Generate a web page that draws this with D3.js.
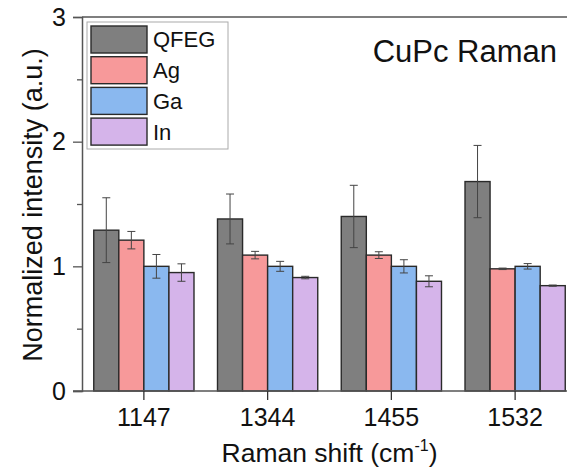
<!DOCTYPE html>
<html>
<head>
<meta charset="utf-8">
<script src="https://cdn.jsdelivr.net/npm/d3@7"></script>
<style>
  body { margin: 0; background: #fff; }
  svg { display: block; font-family: "Liberation Sans", Arial, sans-serif; }
</style>
</head>
<body>
<div id="chart"></div>
<script>
// Raman peak categories and series
const PEAKS = ["1147", "1344", "1455", "1532"];
const SERIES = ["QFEG", "Ag", "Ga", "In"];
const COLORS = ["#7f7f7f", "#f7999a", "#8ab8ef", "#d5b4ea"];

// normalized intensity
const QFEG = [1.29, 1.38, 1.40, 1.68];
const AG   = [1.21, 1.09, 1.09, 0.98];
const GA   = [1.00, 1.00, 1.00, 1.00];
const IN   = [0.95, 0.91, 0.88, 0.845];

// error bar half heights
const QFEG_ERR = [0.26, 0.20, 0.25, 0.29];
const AG_ERR   = [0.07, 0.03, 0.027, 0.006];
const GA_ERR   = [0.095, 0.04, 0.053, 0.022];
const IN_ERR   = [0.07, 0.01, 0.044, 0.005];

const Y_TICKS = [0, 1, 2, 3];

const values = [QFEG, AG, GA, IN];
const errors = [QFEG_ERR, AG_ERR, GA_ERR, IN_ERR];
const rows = [];
PEAKS.forEach((p, i) => SERIES.forEach((s, j) => rows.push({ peak: p, series: s, value: values[j][i], err: errors[j][i], color: COLORS[j] })));

const m = { l: 82, t: 17, r: 0, b: 79 };
const W = 495, H = 374;

const svg = d3.select("#chart").append("svg").attr("width", 567).attr("height", 470);
const g = svg.append("g").attr("transform", `translate(${m.l},${m.t})`);

const x = d3.scaleBand().domain(PEAKS).range([0, W]).paddingInner(0.19).paddingOuter(0.095);
const xs = d3.scaleBand().domain(SERIES).range([0, x.bandwidth()]);
const y = d3.scaleLinear().domain([0, 3]).range([H, 0]);

const axisCol = "#555";

// bars
g.selectAll("rect.bar").data(rows).enter().append("rect").attr("class", "bar")
  .attr("x", d => x(d.peak) + xs(d.series)).attr("y", d => y(d.value))
  .attr("width", xs.bandwidth()).attr("height", d => H - y(d.value))
  .attr("fill", d => d.color).attr("stroke", "#2a2a2a").attr("stroke-width", 1.4);

// error bars
const eb = g.selectAll("g.err").data(rows).enter().append("g").attr("class", "err")
  .attr("transform", d => `translate(${x(d.peak) + xs(d.series) + xs.bandwidth() / 2},0)`)
  .attr("stroke", "#444").attr("stroke-width", 1);
eb.append("line").attr("y1", d => y(d.value + d.err)).attr("y2", d => y(d.value - d.err));
eb.append("line").attr("x1", -4).attr("x2", 4).attr("y1", d => y(d.value + d.err)).attr("y2", d => y(d.value + d.err));
eb.append("line").attr("x1", -4).attr("x2", 4).attr("y1", d => y(d.value - d.err)).attr("y2", d => y(d.value - d.err));

// minor y ticks
g.append("g").call(d3.axisLeft(y).tickValues([0.5, 1.5, 2.5]).tickSize(5).tickFormat(""))
  .call(ax => { ax.select(".domain").remove(); ax.selectAll("line").attr("stroke", axisCol).attr("stroke-width", 1.3); });

// y axis
g.append("g").call(d3.axisLeft(y).tickValues(Y_TICKS).tickSize(9).tickPadding(7).tickFormat(d3.format("d")))
  .call(ax => {
    ax.select(".domain").attr("stroke", axisCol).attr("stroke-width", 1.5);
    ax.selectAll("line").attr("stroke", axisCol).attr("stroke-width", 1.3);
    ax.selectAll("text").style("font-size", "25px").style("fill", "#111");
  });

// x axis
g.append("g").attr("transform", `translate(0,${H})`)
  .call(d3.axisBottom(x).tickSize(9).tickPadding(8))
  .call(ax => {
    ax.select(".domain").attr("stroke", axisCol).attr("stroke-width", 1.5).attr("d", `M-9,0H${W}`);
    ax.selectAll("line").attr("stroke", "#333").attr("stroke-width", 1.3);
    ax.selectAll("text").style("font-size", "25px").style("fill", "#111");
  });

// top frame line
g.append("line").attr("x1", 0).attr("x2", W).attr("y1", 0).attr("y2", 0)
  .attr("stroke", axisCol).attr("stroke-width", 1.5);

// axis titles
g.append("text").attr("transform", "rotate(-90)").attr("x", -(205 - m.t)).attr("y", -40)
  .attr("text-anchor", "middle").style("font-size", "27px").style("fill", "#111")
  .text("Normalized intensity (a.u.)");

const xl = g.append("text").attr("x", W / 2).attr("y", H + 71)
  .attr("text-anchor", "middle").style("font-size", "26.5px").style("fill", "#111");
xl.append("tspan").text("Raman shift (cm");
xl.append("tspan").attr("dy", -11).style("font-size", "16px").text("-1");
xl.append("tspan").attr("dy", 11).text(")");

// title
g.append("text").attr("x", 557 - m.l).attr("y", 62 - m.t).attr("text-anchor", "end")
  .style("font-size", "31px").style("fill", "#111").text("CuPc Raman");

// legend
const lg = g.append("g").attr("transform", "translate(5,5)");
lg.append("rect").attr("width", 141).attr("height", 127).attr("fill", "#fff")
  .attr("stroke", "#aaa").attr("stroke-width", 1);
SERIES.forEach((s, i) => {
  const row = lg.append("g").attr("transform", `translate(4,${4 + i * 30.7})`);
  row.append("rect").attr("width", 56).attr("height", 27)
    .attr("fill", COLORS[i]).attr("stroke", "#2a2a2a").attr("stroke-width", 1.4);
  row.append("text").attr("x", 62).attr("y", 13.5).attr("dy", "0.36em")
    .style("font-size", "22px").style("fill", "#111").text(s);
});
</script>
</body>
</html>
